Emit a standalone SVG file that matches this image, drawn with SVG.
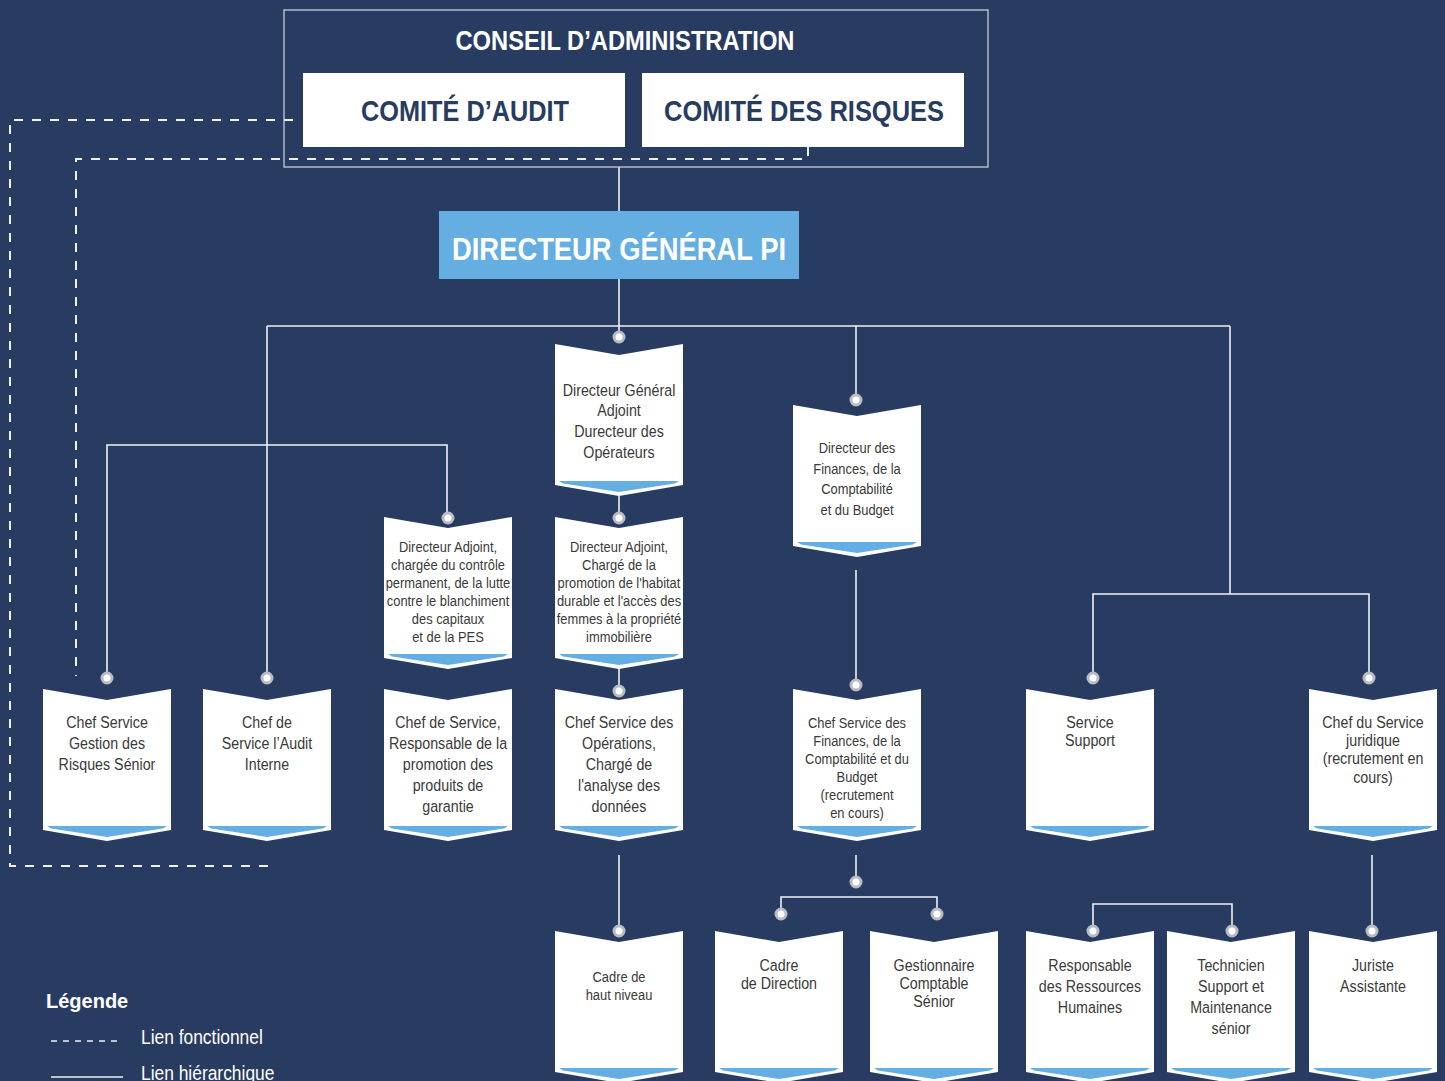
<svg xmlns="http://www.w3.org/2000/svg" xmlns:xlink="http://www.w3.org/1999/xlink" width="1445" height="1081" viewBox="0 0 1445 1081">
<style>
.bg{fill:#283c61}
.ln{fill:none;stroke:#eef0f3;stroke-width:1.6}
.dash{fill:none;stroke:#eef0f3;stroke-width:2;stroke-dasharray:9 9}
.dot{fill:#ffffff;stroke:#b9bcc2;stroke-width:3}
.t{font-family:"Liberation Sans",Arial,sans-serif;font-size:17px;fill:#3a3a3a;text-anchor:middle}
.tc{font-family:"Liberation Sans",Arial,sans-serif;font-size:15px;fill:#3a3a3a;text-anchor:middle}
.hd{font-family:"Liberation Sans",Arial,sans-serif;font-weight:bold;text-anchor:middle}
.lg{font-family:"Liberation Sans",Arial,sans-serif;font-size:20px;fill:#ffffff}
</style>
<defs>
<g id="card">
<polygon points="0,0 64,11 128,0 128,141 64,152 0,141" fill="#ffffff"/>
<polygon points="4,137 124,137 120,139.5 64,148 8,139.5" fill="#64aee2"/>
</g>
</defs>
<rect class="bg" x="0" y="0" width="1445" height="1081"/>

<g id="connectors">
<path class="dash" d="M293,120 H10 V866 H267 V856"/>
<path class="dash" d="M808,147 V159 H76 V676"/>
<path class="ln" d="M619,167 V211"/>
<path class="ln" d="M619,279 V331"/>
<path class="ln" d="M267,326 H1230"/>
<path class="ln" d="M267,326 V672"/>
<path class="ln" d="M856,326 V394"/>
<path class="ln" d="M1230,326 V594"/>
<path class="ln" d="M1093,672 V594 H1369 V672"/>
<path class="ln" d="M107,672 V445 H447 V512"/>
<path class="ln" d="M619,496 V512"/>
<path class="ln" d="M619,668 V685"/>
<path class="ln" d="M856,570 V679"/>
<path class="ln" d="M856,855 V876"/>
<path class="ln" d="M781,908 V897 H937 V908"/>
<path class="ln" d="M619,855 V925"/>
<path class="ln" d="M1093,925 V904 H1232 V925"/>
<path class="ln" d="M1372,855 V925"/>
<g id="dots">
<circle class="dot" cx="619" cy="337" r="5"/>
<circle class="dot" cx="856" cy="400" r="5"/>
<circle class="dot" cx="448" cy="518" r="5"/>
<circle class="dot" cx="619" cy="518" r="5"/>
<circle class="dot" cx="107" cy="678" r="5"/>
<circle class="dot" cx="267" cy="678" r="5"/>
<circle class="dot" cx="619" cy="691" r="5"/>
<circle class="dot" cx="856" cy="685" r="5"/>
<circle class="dot" cx="1093" cy="678" r="5"/>
<circle class="dot" cx="1369" cy="678" r="5"/>
<circle class="dot" cx="856" cy="882" r="5"/>
<circle class="dot" cx="781" cy="914" r="5"/>
<circle class="dot" cx="937" cy="914" r="5"/>
<circle class="dot" cx="619" cy="931" r="5"/>
<circle class="dot" cx="1093" cy="931" r="5"/>
<circle class="dot" cx="1232" cy="931" r="5"/>
<circle class="dot" cx="1372" cy="931" r="5"/>
</g>
</g>

<g id="conseil">
<rect x="284" y="10" width="704" height="157" fill="none" stroke="#c9cdd5" stroke-width="1.3"/>
<text class="hd" x="625" y="50" font-size="27" fill="#ffffff" textLength="339" lengthAdjust="spacingAndGlyphs">CONSEIL D’ADMINISTRATION</text>
</g>
<g id="comite-audit">
<rect x="303" y="73" width="322" height="74" fill="#ffffff"/>
<text class="hd" x="465" y="121" font-size="30" fill="#283c61" textLength="208" lengthAdjust="spacingAndGlyphs">COMITÉ D’AUDIT</text>
</g>
<g id="comite-risques">
<rect x="642" y="73" width="322" height="74" fill="#ffffff"/>
<text class="hd" x="804" y="121" font-size="30" fill="#283c61" textLength="280" lengthAdjust="spacingAndGlyphs">COMITÉ DES RISQUES</text>
</g>
<g id="dg">
<rect x="439" y="211" width="360" height="68" fill="#64aee2"/>
<text class="hd" x="619" y="260" font-size="31" fill="#ffffff" textLength="334" lengthAdjust="spacingAndGlyphs">DIRECTEUR GÉNÉRAL PI</text>
</g>

<g id="dga">
<use xlink:href="#card" x="555" y="344"/>
<text class="t" transform="matrix(0.84,0,0,1,99.04,0)"><tspan x="619" y="396">Directeur Général</tspan><tspan x="619" y="416.5">Adjoint</tspan><tspan x="619" y="437">Durecteur des</tspan><tspan x="619" y="458">Opérateurs</tspan></text>
</g>
<g id="dir-finances">
<use xlink:href="#card" x="793" y="405"/>
<text class="tc" transform="matrix(0.86,0,0,1,119.98,0)"><tspan x="857" y="453.5">Directeur des</tspan><tspan x="857" y="474">Finances, de la</tspan><tspan x="857" y="494.5">Comptabilité</tspan><tspan x="857" y="515.5">et du Budget</tspan></text>
</g>
<g id="da-controle">
<use xlink:href="#card" x="384" y="517"/>
<text class="tc" transform="matrix(0.86,0,0,1,62.72,0)"><tspan x="448" y="552.5">Directeur Adjoint,</tspan><tspan x="448" y="570.5">chargée du contrôle</tspan><tspan x="448" y="588.5">permanent, de la lutte</tspan><tspan x="448" y="606.5">contre le blanchiment</tspan><tspan x="448" y="624.5">des capitaux</tspan><tspan x="448" y="642.5">et de la PES</tspan></text>
</g>
<g id="da-habitat">
<use xlink:href="#card" x="555" y="517"/>
<text class="tc" transform="matrix(0.86,0,0,1,86.66,0)"><tspan x="619" y="552.5">Directeur Adjoint,</tspan><tspan x="619" y="570.5">Chargé de la</tspan><tspan x="619" y="588.5">promotion de l'habitat</tspan><tspan x="619" y="606.5">durable et l'accès des</tspan><tspan x="619" y="624.5">femmes à la propriété</tspan><tspan x="619" y="642.5">immobilière</tspan></text>
</g>

<g id="chef-risques">
<use xlink:href="#card" x="43" y="689"/>
<text class="t" transform="matrix(0.84,0,0,1,17.12,0)"><tspan x="107" y="728">Chef Service</tspan><tspan x="107" y="749">Gestion des</tspan><tspan x="107" y="770">Risques Sénior</tspan></text>
</g>
<g id="chef-audit">
<use xlink:href="#card" x="203" y="689"/>
<text class="t" transform="matrix(0.84,0,0,1,42.72,0)"><tspan x="267" y="728">Chef de</tspan><tspan x="267" y="749">Service l’Audit</tspan><tspan x="267" y="770">Interne</tspan></text>
</g>
<g id="chef-garantie">
<use xlink:href="#card" x="384" y="689"/>
<text class="t" transform="matrix(0.84,0,0,1,71.68,0)"><tspan x="448" y="728">Chef de Service,</tspan><tspan x="448" y="749">Responsable de la</tspan><tspan x="448" y="770">promotion des</tspan><tspan x="448" y="791">produits de</tspan><tspan x="448" y="812">garantie</tspan></text>
</g>
<g id="chef-operations">
<use xlink:href="#card" x="555" y="689"/>
<text class="t" transform="matrix(0.84,0,0,1,99.04,0)"><tspan x="619" y="728">Chef Service des</tspan><tspan x="619" y="749">Opérations,</tspan><tspan x="619" y="770">Chargé de</tspan><tspan x="619" y="791">l'analyse des</tspan><tspan x="619" y="812">données</tspan></text>
</g>
<g id="chef-finances">
<use xlink:href="#card" x="793" y="689"/>
<text class="tc" transform="matrix(0.86,0,0,1,119.98,0)"><tspan x="857" y="728">Chef Service des</tspan><tspan x="857" y="746">Finances, de la</tspan><tspan x="857" y="764">Comptabilité et du</tspan><tspan x="857" y="782.5">Budget</tspan><tspan x="857" y="800.5">(recrutement</tspan><tspan x="857" y="818.5">en cours)</tspan></text>
</g>
<g id="service-support">
<use xlink:href="#card" x="1026" y="689"/>
<text class="t" transform="matrix(0.84,0,0,1,174.4,0)"><tspan x="1090" y="728">Service</tspan><tspan x="1090" y="746.5">Support</tspan></text>
</g>
<g id="chef-juridique">
<use xlink:href="#card" x="1309" y="689"/>
<text class="t" transform="matrix(0.84,0,0,1,219.68,0)"><tspan x="1373" y="728">Chef du Service</tspan><tspan x="1373" y="746">juridique</tspan><tspan x="1373" y="764.5">(recrutement en</tspan><tspan x="1373" y="783">cours)</tspan></text>
</g>

<g id="cadre-haut">
<use xlink:href="#card" x="555" y="931"/>
<text class="tc" transform="matrix(0.86,0,0,1,86.66,0)"><tspan x="619" y="982.5">Cadre de</tspan><tspan x="619" y="1000.5">haut niveau</tspan></text>
</g>
<g id="cadre-direction">
<use xlink:href="#card" x="715" y="931"/>
<text class="t" transform="matrix(0.84,0,0,1,124.64,0)"><tspan x="779" y="971">Cadre</tspan><tspan x="779" y="989">de Direction</tspan></text>
</g>
<g id="gestionnaire">
<use xlink:href="#card" x="870" y="931"/>
<text class="t" transform="matrix(0.84,0,0,1,149.44,0)"><tspan x="934" y="971">Gestionnaire</tspan><tspan x="934" y="989">Comptable</tspan><tspan x="934" y="1007">Sénior</tspan></text>
</g>
<g id="rh">
<use xlink:href="#card" x="1026" y="931"/>
<text class="t" transform="matrix(0.84,0,0,1,174.4,0)"><tspan x="1090" y="971">Responsable</tspan><tspan x="1090" y="992">des Ressources</tspan><tspan x="1090" y="1013">Humaines</tspan></text>
</g>
<g id="technicien">
<use xlink:href="#card" x="1167" y="931"/>
<text class="t" transform="matrix(0.84,0,0,1,196.96,0)"><tspan x="1231" y="971">Technicien</tspan><tspan x="1231" y="992">Support et</tspan><tspan x="1231" y="1013">Maintenance</tspan><tspan x="1231" y="1034">sénior</tspan></text>
</g>
<g id="juriste">
<use xlink:href="#card" x="1309" y="931"/>
<text class="t" transform="matrix(0.84,0,0,1,219.68,0)"><tspan x="1373" y="971">Juriste</tspan><tspan x="1373" y="992">Assistante</tspan></text>
</g>

<g id="legende">
<text x="46" y="1008" font-family="Liberation Sans, Arial, sans-serif" font-weight="bold" font-size="20" fill="#ffffff">Légende</text>
<line x1="51" y1="1041" x2="123" y2="1041" stroke="#eef0f3" stroke-width="1.5" stroke-dasharray="6 6"/>
<text class="lg" x="141" y="1044" transform="matrix(0.87,0,0,1,18.33,0)">Lien fonctionnel</text>
<line x1="51" y1="1077" x2="123" y2="1077" stroke="#eef0f3" stroke-width="1.6"/>
<text class="lg" x="141" y="1080" transform="matrix(0.87,0,0,1,18.33,0)">Lien hiérarchique</text>
</g>
</svg>
